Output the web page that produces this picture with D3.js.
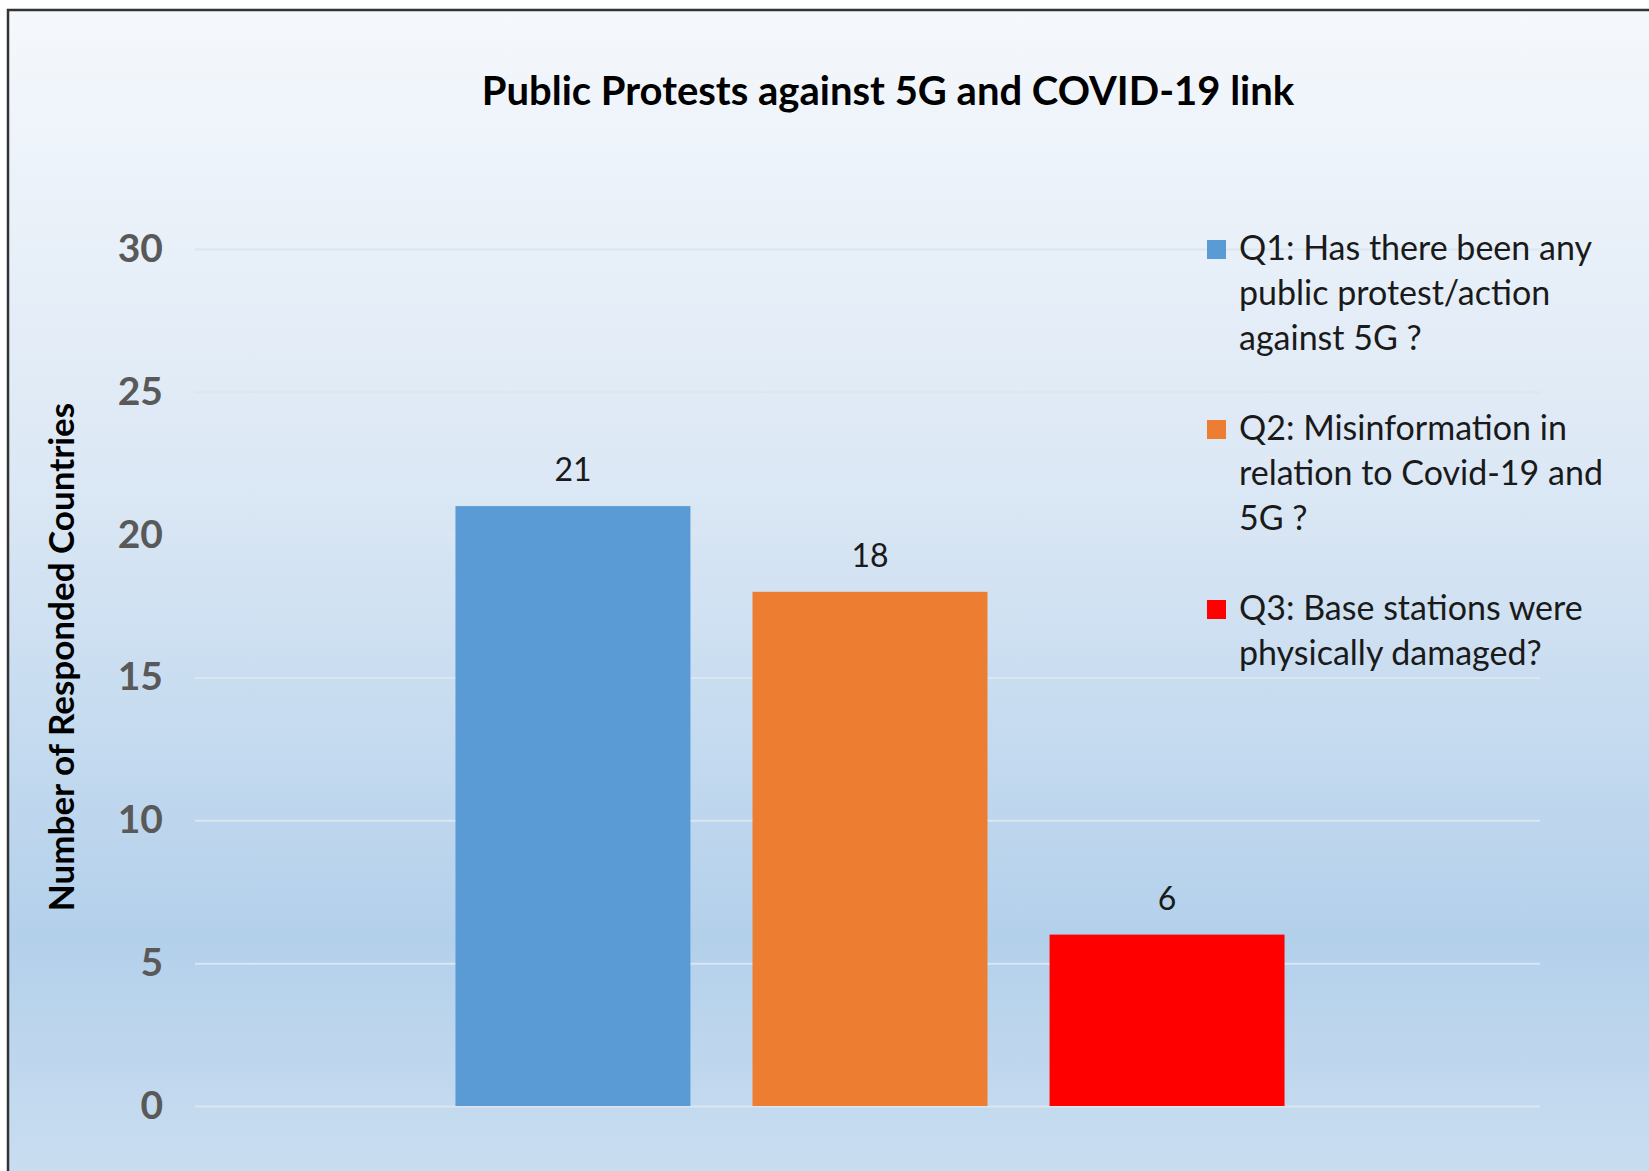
<!DOCTYPE html>
<html lang="en">
<head>
	<meta charset="UTF-8"/>
	<title>Public Protests against 5G and COVID-19 link</title>
	<script src="https://d3js.org/d3.v7.min.js"></script>
	<style>
		body { margin: 0; background: #fff; }
		text { font-family: Lato, "Open Sans", sans-serif; }
	</style>
</head>
<body>
	<script>

	var w = 1649;
	var h = 1171;

	// data
	var questions = ["Q1", "Q2", "Q3"];
	var values = [21, 18, 6];
	var legendLines = [
		["Q1: Has there been any", "public protest/action", "against 5G ?"],
		["Q2: Misinformation in", "relation to Covid-19 and", "5G ?"],
		["Q3: Base stations were", "physically  damaged?"]
	];
	var yTicks = [0, 5, 10, 15, 20, 25, 30];
	var colors = ["#5b9bd5", "#ed7d31", "#ff0000"];

	var xScale = d3.scaleBand()
				.domain(questions)
				.range([200, 1540])
				.paddingInner(0.209)
				.paddingOuter(0.86);

	var yScale = d3.scaleLinear()
				.domain([0, 30])
				.range([1106, 249]);

	var svg = d3.select("body")
				.append("svg")
				.attr("width", w)
				.attr("height", h);

	// background gradient
	var grad = svg.append("defs")
				.append("linearGradient")
				.attr("id", "bg")
				.attr("x1", 0).attr("y1", 0)
				.attr("x2", 0).attr("y2", 1);
	grad.append("stop").attr("offset", "0%").attr("stop-color", "#f5f8fc");
	grad.append("stop").attr("offset", "40%").attr("stop-color", "#dce8f5");
	grad.append("stop").attr("offset", "80%").attr("stop-color", "#b3d0eb");
	grad.append("stop").attr("offset", "100%").attr("stop-color", "#c9ddf0");

	svg.append("rect")
		.attr("x", 8).attr("y", 10)
		.attr("width", w - 8).attr("height", h - 10)
		.attr("fill", "url(#bg)");

	// frame (only top and left visible in the crop)
	svg.append("path")
		.attr("d", "M8," + h + "V10H" + w)
		.attr("fill", "none")
		.attr("stroke", "#333")
		.attr("stroke-width", 2.5);

	// gridlines + tick labels via axis
	var yAxis = d3.axisLeft(yScale)
				.tickValues(yTicks)
				.tickSize(-(1540 - 195))
				.tickPadding(32);

	var gy = svg.append("g")
				.attr("transform", "translate(195,0)")
				.call(yAxis);
	gy.select(".domain").remove();
	gy.selectAll(".tick line")
		.attr("stroke", "#dce6f0")
		.attr("stroke-width", 2);
	gy.selectAll(".tick text")
		.attr("fill", "#595959")
		.attr("font-size", 39)
		.attr("font-weight", "bold")
		.attr("font-family", "Lato, sans-serif");

	// bars
	svg.selectAll("rect.bar")
		.data(values)
		.enter()
		.append("rect")
		.attr("class", "bar")
		.attr("x", function(d, i) { return xScale(questions[i]); })
		.attr("y", function(d) { return yScale(d); })
		.attr("width", xScale.bandwidth())
		.attr("height", function(d) { return yScale(0) - yScale(d); })
		.attr("fill", function(d, i) { return colors[i]; });

	// value labels
	svg.selectAll("text.val")
		.data(values)
		.enter()
		.append("text")
		.attr("class", "val")
		.attr("x", function(d, i) { return xScale(questions[i]) + xScale.bandwidth() / 2; })
		.attr("y", function(d) { return yScale(d) - 25; })
		.attr("text-anchor", "middle")
		.attr("font-size", 32)
		.attr("fill", "#1a1a1a")
		.text(function(d) { return d; });

	// title
	svg.append("text")
		.attr("x", 888)
		.attr("y", 105)
		.attr("text-anchor", "middle")
		.attr("font-size", 40)
		.attr("font-weight", "bold")
		.attr("fill", "#000")
		.text("Public Protests against 5G and COVID-19 link");

	// y axis title
	svg.append("text")
		.attr("transform", "translate(74,657) rotate(-90)")
		.attr("text-anchor", "middle")
		.attr("font-size", 35)
		.attr("font-weight", "bold")
		.attr("fill", "#000")
		.text("Number of Responded Countries");

	// legend
	var legend = svg.selectAll("g.legend")
				.data(legendLines)
				.enter()
				.append("g")
				.attr("class", "legend")
				.attr("transform", function(d, i) { return "translate(1207," + (260 + i * 180) + ")"; });

	legend.append("rect")
		.attr("x", 0)
		.attr("y", -20)
		.attr("width", 19)
		.attr("height", 19)
		.attr("fill", function(d, i) { return colors[i]; });

	legend.append("text")
		.attr("x", 32)
		.attr("y", 0)
		.attr("font-size", 34)
		.attr("fill", "#1a1a1a")
		.selectAll("tspan")
		.data(function(d) { return d; })
		.enter()
		.append("tspan")
		.attr("x", 32)
		.attr("dy", function(d, i) { return i === 0 ? 0 : 45; })
		.text(function(d) { return d; });

	</script>
</body>
</html>
